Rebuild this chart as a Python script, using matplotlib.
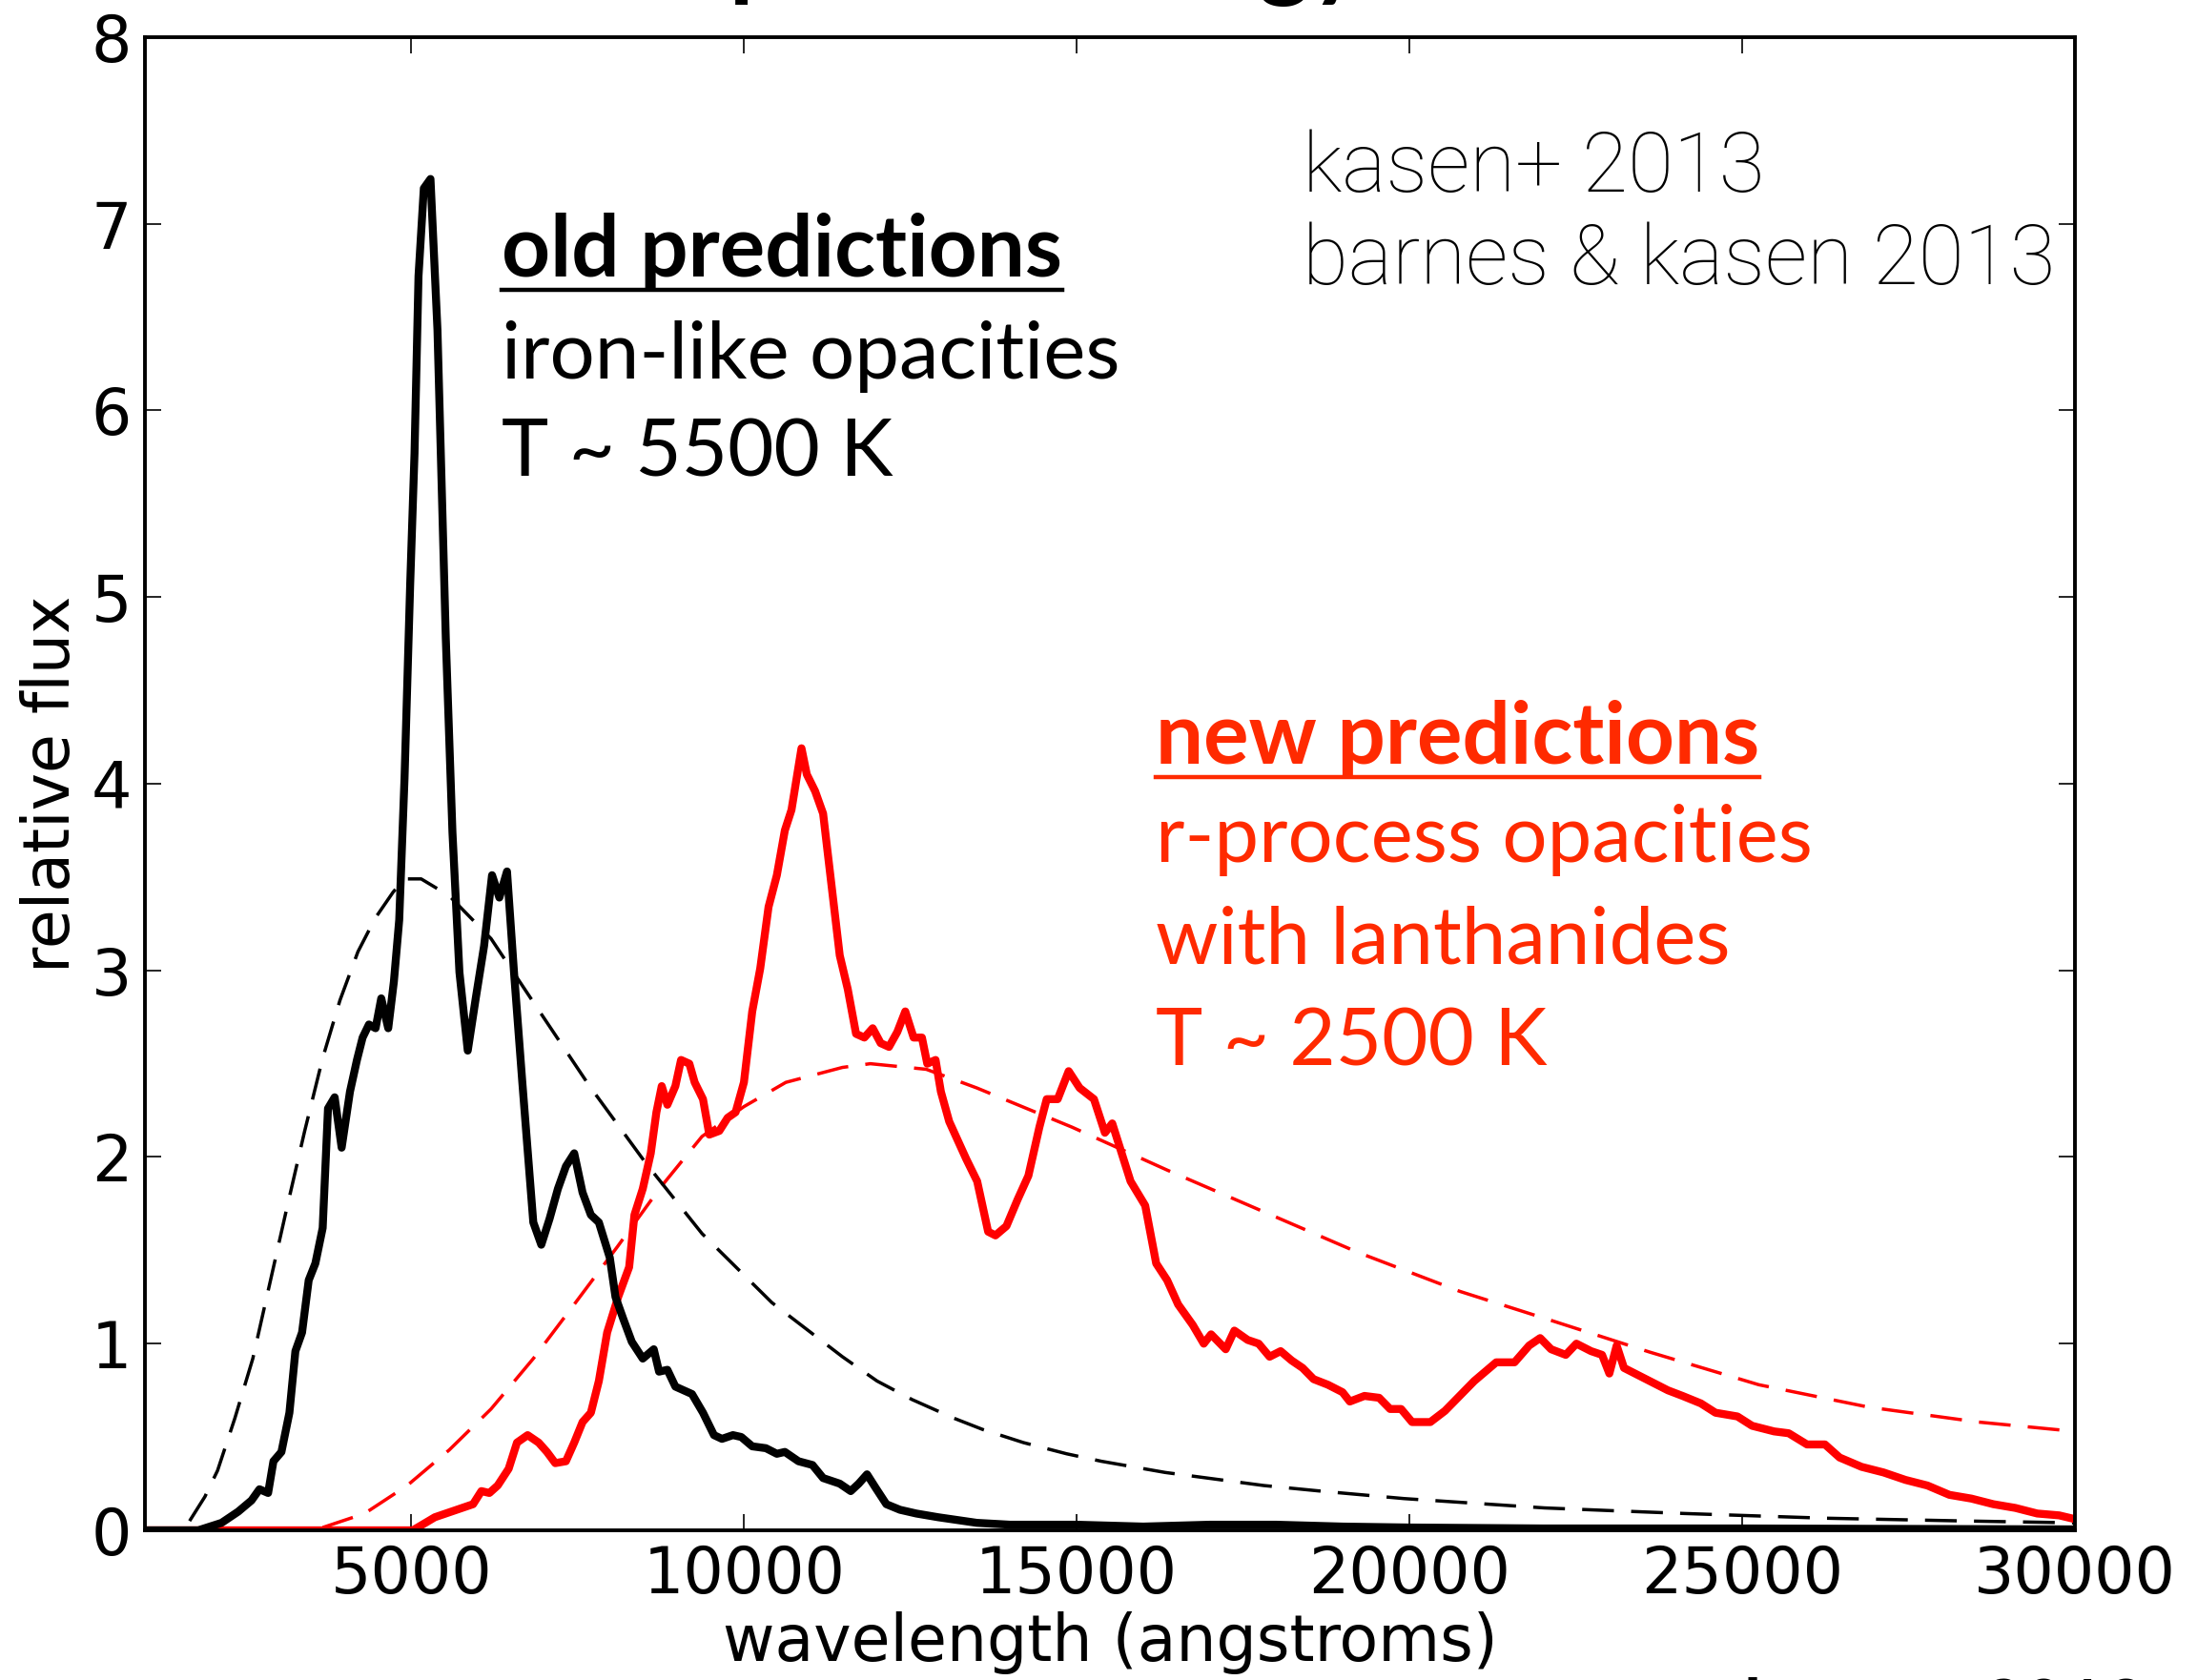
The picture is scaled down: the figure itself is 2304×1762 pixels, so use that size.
import numpy as np
import matplotlib
matplotlib.use('Agg')
import matplotlib.pyplot as plt
from matplotlib.lines import Line2D
from matplotlib.transforms import IdentityTransform

# old predictions: iron-like opacities (black)
old_wave = [1000, 1800, 2150, 2400, 2600, 2720, 2850, 2930, 3050, 3170, 3260, 3360,
            3460, 3560, 3670, 3750, 3850, 3955, 4080, 4185, 4270, 4365, 4465, 4550,
            4655, 4740, 4820, 4900, 4985, 5050, 5110, 5190, 5290, 5395, 5520, 5620,
            5725, 5850, 5970, 6095, 6215, 6325, 6440, 6545, 6670, 6835, 6955, 7080,
            7205, 7325, 7450, 7575, 7700, 7820, 7985, 8070, 8190, 8315, 8480, 8645,
            8725, 8850, 8970, 9220, 9385, 9550, 9670, 9835, 9960, 10125, 10330, 10495,
            10615, 10820, 11030, 11190, 11440, 11605, 11725, 11850, 11975, 12140,
            12345, 12590, 12920, 13500, 14000, 15000, 16000, 17000, 18000, 19000,
            20000, 22000, 25000, 30000]
old_flux = [0.0, 0.0, 0.04, 0.1, 0.16, 0.22, 0.2, 0.37, 0.42, 0.63, 0.96, 1.06,
            1.34, 1.43, 1.62, 2.26, 2.32, 2.05, 2.35, 2.52, 2.64, 2.71, 2.69, 2.85,
            2.69, 2.94, 3.27, 4.03, 5.07, 5.77, 6.72, 7.19, 7.24, 6.43, 4.78, 3.74,
            2.99, 2.57, 2.85, 3.13, 3.51, 3.39, 3.53, 2.99, 2.40, 1.65, 1.53, 1.67,
            1.83, 1.95, 2.02, 1.81, 1.69, 1.65, 1.46, 1.25, 1.13, 1.01, 0.92, 0.97,
            0.85, 0.86, 0.77, 0.73, 0.63, 0.51, 0.49, 0.51, 0.50, 0.45, 0.44, 0.41,
            0.42, 0.37, 0.35, 0.28, 0.25, 0.21, 0.25, 0.30, 0.23, 0.14,
            0.11, 0.09, 0.07, 0.04, 0.03, 0.03, 0.02, 0.03, 0.03, 0.02,
            0.015, 0.01, 0.01, 0.005]

# blackbody guide, T ~ 5500 K (black dashed)
old_bb_wave = [1670, 1900, 2090, 2350, 2620, 2880, 3140, 3400, 3670, 3930, 4200,
               4460, 4730, 4900, 5150, 5570, 6200, 6835, 7680, 8520, 9370, 10420,
               11480, 12000, 12530, 13160, 13590, 14200, 14850, 15370, 16330, 17810,
               18670, 19920, 22030, 23060, 24140, 26240, 28350, 30000]
old_bb_flux = [0.05, 0.18, 0.32, 0.60, 0.92, 1.33, 1.74, 2.14, 2.53, 2.84, 3.10,
               3.28, 3.42, 3.49, 3.49, 3.40, 3.17, 2.83, 2.38, 1.97, 1.59, 1.22,
               0.93, 0.80, 0.70, 0.60, 0.54, 0.47, 0.41, 0.37, 0.31, 0.24,
               0.21, 0.17, 0.12, 0.105, 0.09, 0.065, 0.05, 0.04]

# new predictions: r-process opacities with lanthanides (red)
new_wave = [1000, 4500, 5025, 5355, 5685, 5930, 6055, 6175, 6300, 6465, 6590, 6750,
            6915, 7040, 7165, 7325, 7450, 7575, 7700, 7820, 7945, 8110, 8275, 8355,
            8480, 8600, 8685, 8765, 8850, 8970, 9055, 9180, 9260, 9385, 9480, 9630,
            9755, 9875, 10000, 10125, 10245, 10370, 10495, 10615, 10715, 10865,
            10945, 11070, 11190, 11315, 11440, 11560, 11685, 11810, 11935, 12055,
            12180, 12305, 12425, 12550, 12675, 12755, 12880, 12960, 13085, 13340,
            13505, 13670, 13780, 13945, 14110, 14275, 14440, 14550, 14715, 14880,
            15045, 15260, 15425, 15535, 15810, 16030, 16195, 16360, 16525, 16745,
            16910, 17020, 17240, 17370, 17570, 17735, 17900, 18065, 18230, 18395,
            18560, 18775, 18995, 19105, 19325, 19545, 19710, 19875, 20040, 20315,
            20535, 20755, 20975, 21305, 21580, 21800, 21965, 22130, 22350, 22510,
            22730, 22895, 23005, 23115, 23225, 23390, 23610, 23885, 24105, 24380,
            24600, 24930, 25150, 25480, 25700, 25975, 26245, 26465, 26795, 27125,
            27455, 27785, 28115, 28445, 28775, 29105, 29435, 29765, 30000]
new_flux = [0.0, 0.0, 0.0, 0.07, 0.11, 0.14, 0.21, 0.20, 0.24, 0.33, 0.47, 0.51,
            0.47, 0.42, 0.36, 0.37, 0.47, 0.58, 0.63, 0.80, 1.06, 1.25, 1.41, 1.69,
            1.83, 2.02, 2.24, 2.38, 2.28, 2.38, 2.52, 2.50, 2.40, 2.31, 2.12, 2.14,
            2.21, 2.24, 2.40, 2.78, 3.01, 3.34, 3.51, 3.75, 3.86, 4.19,
            4.05, 3.96, 3.84, 3.46, 3.08, 2.90, 2.66, 2.64, 2.69, 2.61,
            2.59, 2.67, 2.78, 2.64, 2.64, 2.50, 2.52, 2.35, 2.19, 1.99,
            1.87, 1.60, 1.58, 1.63, 1.77, 1.90, 2.16, 2.31, 2.31, 2.46,
            2.37, 2.31, 2.13, 2.18, 1.87, 1.74, 1.43, 1.34, 1.21, 1.10,
            1.00, 1.05, 0.97, 1.07, 1.02, 1.00, 0.93, 0.96, 0.91, 0.87,
            0.81, 0.78, 0.74, 0.69, 0.72, 0.71, 0.65, 0.65, 0.58, 0.58,
            0.64, 0.72, 0.80, 0.90, 0.90, 0.99, 1.03, 0.97, 0.94, 1.00,
            0.96, 0.94, 0.84, 0.99, 0.87, 0.84, 0.80, 0.75, 0.72, 0.68,
            0.63, 0.61, 0.56, 0.53, 0.52, 0.46, 0.46, 0.39, 0.34, 0.31,
            0.27, 0.24, 0.19, 0.17, 0.14, 0.12, 0.09, 0.08, 0.06]

# blackbody guide, T ~ 2500 K (red dashed)
new_bb_wave = [3670, 4300, 4940, 5570, 6200, 6835, 7470, 8100, 8730, 9370, 10000,
               10630, 11480, 11900, 12740, 13500, 14930, 16360, 17790, 19220,
               20760, 22170, 23610, 25250, 26900, 28550, 30000]
new_bb_flux = [0.015, 0.09, 0.24, 0.43, 0.65, 0.92, 1.22, 1.52, 1.83, 2.11, 2.27,
               2.40, 2.48, 2.50, 2.47, 2.37, 2.16, 1.93, 1.71, 1.49,
               1.28, 1.12, 0.955, 0.78, 0.66, 0.58, 0.53]

xticks = [5000, 10000, 15000, 20000, 25000, 30000]
yticks = [0, 1, 2, 3, 4, 5, 6, 7, 8]

old_lines = ['old predictions', 'iron-like opacities', 'T ~ 5500 K']
new_lines = ['new predictions', 'r-process opacities', 'with lanthanides', 'T ~ 2500 K']
refs = ['kasen+ 2013', 'barnes & kasen 2013']

red_text = '#ff2a00'
gill = ['Lato', 'DejaVu Sans']
light = ['Roboto', 'Lato', 'DejaVu Sans']

plt.rcParams['lines.scale_dashes'] = False

fig = plt.figure(figsize=(23.04, 17.62), dpi=100)
ax = fig.add_axes([0.0660, 0.0891, 0.8784, 0.8888])

ax.plot(new_bb_wave, new_bb_flux, color='red', lw=2.5, dashes=(24, 13))
ax.plot(old_bb_wave, old_bb_flux, color='black', lw=2.5, dashes=(24, 13))
ax.plot(new_wave, new_flux, color='red', lw=6)
ax.plot(old_wave, old_flux, color='black', lw=6)

ax.set_xlim(1000, 30000)
ax.set_ylim(0, 8)
ax.set_xticks(xticks)
ax.set_yticks(yticks)
ax.tick_params(direction='in', length=12, width=1.2, top=True, right=True,
               labelsize=48, pad=10)
for s in ax.spines.values():
    s.set_linewidth(2.8)
ax.set_xlabel('wavelength (angstroms)', fontsize=48, labelpad=4)
ax.set_ylabel('relative flux', fontsize=48, labelpad=6)

texts = []
ys = [0.840, 0.7716, 0.7057]
for i, s in enumerate(old_lines):
    t = ax.text(0.1848, ys[i], s, transform=ax.transAxes, family=gill,
                fontsize=64 if i == 0 else 60, fontweight='bold' if i == 0 else 'normal',
                va='baseline', color='black')
    texts.append((t, i == 0, 'black'))
ys = [0.5134, 0.4476, 0.3793, 0.3116]
for i, s in enumerate(new_lines):
    t = ax.text(0.5238, ys[i], s, transform=ax.transAxes, family=gill,
                fontsize=64 if i == 0 else 60, fontweight='bold' if i == 0 else 'normal',
                va='baseline', color=red_text)
    texts.append((t, i == 0, red_text))
ys = [0.8966, 0.8346]
for i, s in enumerate(refs):
    ax.text(0.600, ys[i], s, transform=ax.transAxes, fontsize=63, family=light,
            fontweight='light', va='baseline')

# cut-off title at the top and reference at the bottom
fig.text(0.312, 1.0068, 'spectral energy distribution', fontsize=75, family=gill,
         fontweight='bold', va='baseline')
fig.text(0.9766, -0.030, 'kasen+ 2013', fontsize=53, family=gill,
         fontweight='bold', va='baseline', ha='right')

# underline the headings
fig.canvas.draw()
r = fig.canvas.get_renderer()
for t, ul, c in texts:
    if not ul:
        continue
    bb = t.get_window_extent(renderer=r)
    x0, y0 = ax.transAxes.transform(t.get_position())
    fig.add_artist(Line2D([bb.x0, bb.x1], [y0 - 14, y0 - 14], color=c, lw=3.2,
                          transform=IdentityTransform()))

fig.savefig('out.png', dpi=100)
